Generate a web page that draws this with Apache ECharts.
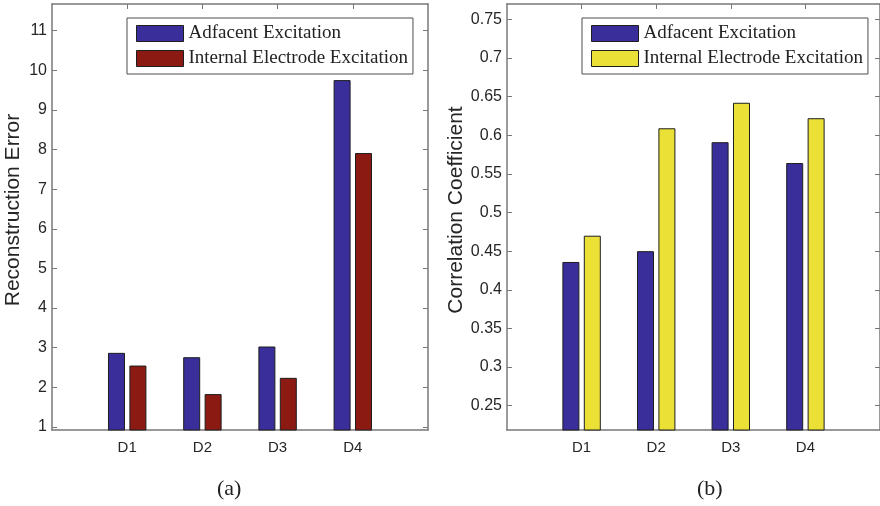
<!DOCTYPE html>
<html>
<head>
<meta charset="utf-8">
<script src="https://cdn.jsdelivr.net/npm/echarts@6/dist/echarts.min.js"></script>
<style>
html,body{margin:0;padding:0;background:#fff;}
#chart{width:880px;height:506px;}
</style>
</head>
<body>
<div id="chart"></div>
<script>
// ---- data ----
var categories = ['D1', 'D2', 'D3', 'D4'];
var seriesNames = ['Adfacent Excitation', 'Internal Electrode Excitation'];
var errAdjacent = [2.87, 2.76, 3.03, 9.75];
var errInternal = [2.55, 1.83, 2.24, 7.91];
var corrAdjacent = [0.436, 0.450, 0.591, 0.564];
var corrInternal = [0.470, 0.609, 0.642, 0.622];
var errTicks = [1, 2, 3, 4, 5, 6, 7, 8, 9, 10, 11];
var corrTicks = [0.25, 0.3, 0.35, 0.4, 0.45, 0.5, 0.55, 0.6, 0.65, 0.7, 0.75];
var catPositions = [1, 2, 3, 4];
var yTitleA = 'Reconstruction Error';
var yTitleB = 'Correlation Coefficient';
var captions = ['(a)', '(b)'];

// ---- styles ----
var BLUE = '#3a2e9b', RED = '#8b1a12', YELLOW = '#ebe035';
var FRAME = '#787878', TXT = '#262626';
var SANS = 'Liberation Sans, Arial, sans-serif';
var SERIF = 'Liberation Serif, Times New Roman, serif';

function pairs(vals) { return vals.map(function (v, i) { return [catPositions[i], v]; }); }

function xAxes(g) {
  return [
    { gridIndex: g, type: 'value', position: 'bottom', min: 0, max: 5,
      axisLine: { show: true, lineStyle: { color: FRAME, width: 1.5 } },
      axisTick: { show: false },
      axisLabel: { customValues: catPositions, margin: 10, fontSize: 15, color: TXT, fontFamily: SANS,
        formatter: function (v) { return categories[Math.round(v) - 1] || ''; } },
      splitLine: { show: false } },
    { gridIndex: g, type: 'value', position: 'top', min: 0, max: 5,
      axisLine: { show: true, onZero: false, lineStyle: { color: FRAME, width: 1.5 } },
      axisTick: { show: true, inside: true, length: 5, customValues: catPositions, lineStyle: { color: FRAME } },
      axisLabel: { show: false }, splitLine: { show: false } }
  ];
}
function yAxes(g, min, max, ticks, name, gap) {
  return [
    { gridIndex: g, type: 'value', position: 'left', min: min, max: max,
      name: name, nameLocation: 'middle', nameGap: gap, nameMoveOverlap: false,
      nameTextStyle: { fontSize: 21, color: TXT, fontFamily: SANS, padding: [0, 0, 0, 14] },
      axisLine: { show: true, onZero: false, lineStyle: { color: FRAME, width: 1.5 } },
      axisTick: { show: true, inside: true, length: 5, customValues: ticks, lineStyle: { color: FRAME } },
      axisLabel: { customValues: ticks, margin: 5, fontSize: 16, color: TXT, fontFamily: SANS,
        formatter: function (v) { return String(+v.toFixed(2)); } },
      splitLine: { show: false } },
    { gridIndex: g, type: 'value', position: 'right', min: min, max: max,
      axisLine: { show: true, onZero: false, lineStyle: { color: FRAME, width: 1.5 } },
      axisTick: { show: true, inside: true, length: 5, customValues: ticks, lineStyle: { color: FRAME } },
      axisLabel: { show: false }, splitLine: { show: false } }
  ];
}
function bar(name, vals, color, g) {
  return { type: 'bar', name: name, data: pairs(vals), xAxisIndex: g * 2, yAxisIndex: g * 2,
    barWidth: 17, barGap: '26%', clip: true,
    itemStyle: { color: color, borderColor: '#1e1e1e', borderWidth: 1 } };
}
function legend(left, colors) {
  return { orient: 'vertical', left: left, top: 18, icon: 'rect', itemWidth: 47, itemHeight: 16, itemGap: 6,
    padding: [6, 5, 6, 9], borderColor: '#4d4d4d', borderWidth: 1, backgroundColor: '#fff',
    selectedMode: false,
    textStyle: { fontFamily: SERIF, fontSize: 19, color: '#222', lineHeight: 16 },
    data: seriesNames.map(function (n, i) {
      return { name: n, itemStyle: { color: colors[i], borderColor: '#1e1e1e', borderWidth: 1 } };
    }) };
}

var chart = echarts.init(document.getElementById('chart'), null, { renderer: 'canvas' });
chart.setOption({
  animation: false,
  backgroundColor: '#fff',
  grid: [
    { left: 52, top: 4, width: 376, height: 426 },
    { left: 507, top: 4, width: 376, height: 426 }
  ],
  xAxis: xAxes(0).concat(xAxes(1)),
  yAxis: yAxes(0, 0.924, 11.67, errTicks, yTitleA, 28).concat(yAxes(1, 0.2186, 0.7698, corrTicks, yTitleB, 40)),
  legend: [legend(127, [BLUE, RED]), legend(582, [BLUE, YELLOW])],
  title: [
    { text: captions[0], left: 217, top: 478, padding: 0, textStyle: { fontFamily: SERIF, fontSize: 22, fontWeight: 'normal', color: '#222' } },
    { text: captions[1], left: 697, top: 478, padding: 0, textStyle: { fontFamily: SERIF, fontSize: 22, fontWeight: 'normal', color: '#222' } }
  ],
  series: [
    bar(seriesNames[0], errAdjacent, BLUE, 0),
    bar(seriesNames[1], errInternal, RED, 0),
    bar(seriesNames[0], corrAdjacent, BLUE, 1),
    bar(seriesNames[1], corrInternal, YELLOW, 1)
  ]
});
</script>
</body>
</html>
